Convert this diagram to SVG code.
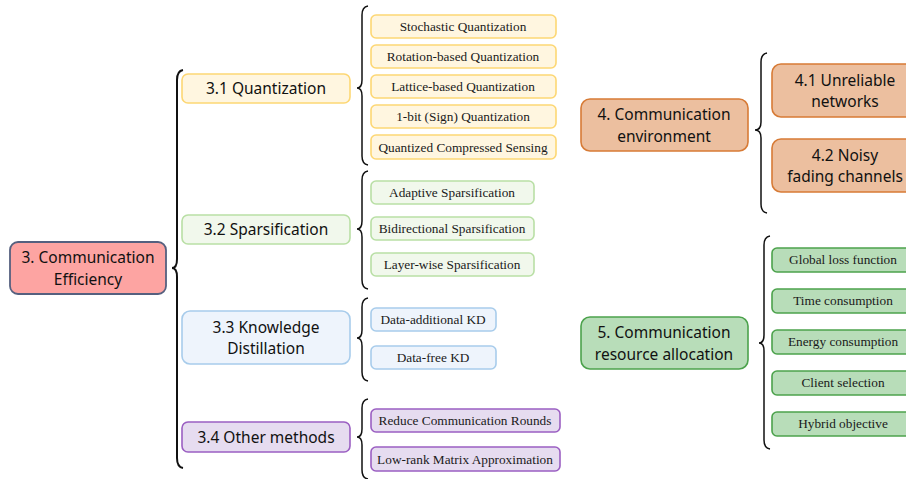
<svg xmlns="http://www.w3.org/2000/svg" width="906" height="479" viewBox="0 0 906 479">
<style>
.t{font-family:"Noto Sans","DejaVu Sans",sans-serif;font-size:15.5px;fill:#111;text-anchor:middle}
.s{font-family:"Liberation Serif","Times New Roman",serif;font-size:13.3px;fill:#1a1a1a;text-anchor:middle}
.br{fill:none;stroke:#111;stroke-width:1.5}
.q{fill:#fff6e0;stroke:#fdd774;stroke-width:1.6}
.sp{fill:#f1f8ec;stroke:#b9dfa5;stroke-width:1.6}
.kd{fill:#eef4fc;stroke:#a8cceb;stroke-width:1.6}
.om{fill:#e6dcf0;stroke:#9b5fc2;stroke-width:1.6}
.ce{fill:#ecbf9f;stroke:#d77b36;stroke-width:1.6}
.ra{fill:#b8ddb9;stroke:#4ca24c;stroke-width:1.6}
</style>
<rect width="906" height="479" fill="#fff"/>
<g id="connectors">
<path class="br" style="stroke-width:2" d="M183,70 Q177,71 177,80 L177,259 Q177,268 172,268 Q177,268 177,277 L177,458 Q177,467 183,468"/>
<path class="br" d="M368,6 Q362,7 362,15 L362,80 Q362,88 357,88 Q362,88 362,96 L362,156 Q362,164 368,165"/>
<path class="br" d="M368,171 Q362,172 362,180 L362,221 Q362,229 357,229 Q362,229 362,237 L362,280 Q362,288 368,289"/>
<path class="br" d="M368,298 Q362,299 362,307 L362,330 Q362,338 357,338 Q362,338 362,346 L362,372 Q362,380 368,381"/>
<path class="br" d="M368,399 Q362,400 362,408 L362,429 Q362,437 357,437 Q362,437 362,445 L362,470 Q362,478 368,479"/>
<path class="br" d="M767,53 Q761,54 761,62 L761,122 Q761,130 755,130 Q761,130 761,138 L761,204 Q761,212 767,213"/>
<path class="br" d="M770,236 Q764,237 764,245 L764,335 Q764,343 759,343 Q764,343 764,351 L764,440 Q764,448 770,449"/>
</g>
<g id="n3"><rect x="10" y="242" width="156" height="52" rx="8" fill="#fda4a2" stroke="#55607f" stroke-width="1.8"/><text class="t" x="88" y="263">3. Communication</text><text class="t" x="88" y="285">Efficiency</text></g>
<g id="n31"><rect class="q" x="182" y="74" width="168" height="29" rx="6"/><text class="t" x="266" y="94">3.1 Quantization</text></g>
<g id="n32"><rect class="sp" x="182" y="215" width="168" height="29" rx="6"/><text class="t" x="266" y="235">3.2 Sparsification</text></g>
<g id="n33"><rect class="kd" x="182" y="311" width="168" height="53" rx="8"/><text class="t" x="266" y="333">3.3 Knowledge</text><text class="t" x="266" y="354">Distillation</text></g>
<g id="n34"><rect class="om" x="182" y="422" width="168" height="30" rx="6"/><text class="t" x="266" y="443">3.4 Other methods</text></g>
<g id="q1"><rect class="q" x="371" y="15" width="185" height="23" rx="5"/><text class="s" x="463" y="31">Stochastic Quantization</text></g>
<g id="q2"><rect class="q" x="371" y="45" width="185" height="23" rx="5"/><text class="s" x="463" y="61">Rotation-based Quantization</text></g>
<g id="q3"><rect class="q" x="371" y="75" width="185" height="23" rx="5"/><text class="s" x="463" y="91">Lattice-based Quantization</text></g>
<g id="q4"><rect class="q" x="371" y="105" width="185" height="23" rx="5"/><text class="s" x="463" y="121">1-bit (Sign) Quantization</text></g>
<g id="q5"><rect class="q" x="371" y="135" width="185" height="24" rx="5"/><text class="s" x="463" y="152">Quantized Compressed Sensing</text></g>
<g id="s1"><rect class="sp" x="371" y="181" width="163" height="23" rx="5"/><text class="s" x="452" y="197">Adaptive Sparsification</text></g>
<g id="s2"><rect class="sp" x="371" y="217" width="163" height="23" rx="5"/><text class="s" x="452" y="233">Bidirectional Sparsification</text></g>
<g id="s3"><rect class="sp" x="371" y="253" width="163" height="23" rx="5"/><text class="s" x="452" y="269">Layer-wise Sparsification</text></g>
<g id="k1"><rect class="kd" x="371" y="308" width="125" height="23" rx="5"/><text class="s" x="433" y="324">Data-additional KD</text></g>
<g id="k2"><rect class="kd" x="371" y="346" width="125" height="23" rx="5"/><text class="s" x="433" y="362">Data-free KD</text></g>
<g id="o1"><rect class="om" x="371" y="409" width="189" height="23" rx="5"/><text class="s" x="465" y="425">Reduce Communication Rounds</text></g>
<g id="o2"><rect class="om" x="371" y="447" width="189" height="24" rx="5"/><text class="s" x="465" y="464">Low-rank Matrix Approximation</text></g>
<g id="n4"><rect class="ce" x="581" y="99" width="167" height="52" rx="9"/><text class="t" x="664" y="120">4. Communication</text><text class="t" x="664" y="142">environment</text></g>
<g id="n41"><rect class="ce" x="772" y="64" width="146" height="53" rx="9"/><text class="t" x="845" y="86">4.1 Unreliable</text><text class="t" x="845" y="107">networks</text></g>
<g id="n42"><rect class="ce" x="772" y="139" width="146" height="53" rx="9"/><text class="t" x="845" y="161">4.2 Noisy</text><text class="t" x="845" y="182">fading channels</text></g>
<g id="n5"><rect class="ra" x="581" y="317" width="167" height="52" rx="9"/><text class="t" x="664" y="338">5. Communication</text><text class="t" x="664" y="360">resource allocation</text></g>
<g id="r1"><rect class="ra" x="772" y="248" width="142" height="24" rx="5"/><text class="s" x="843" y="264">Global loss function</text></g>
<g id="r2"><rect class="ra" x="772" y="289" width="142" height="24" rx="5"/><text class="s" x="843" y="305">Time consumption</text></g>
<g id="r3"><rect class="ra" x="772" y="330" width="142" height="24" rx="5"/><text class="s" x="843" y="346">Energy consumption</text></g>
<g id="r4"><rect class="ra" x="772" y="371" width="142" height="24" rx="5"/><text class="s" x="843" y="387">Client selection</text></g>
<g id="r5"><rect class="ra" x="772" y="412" width="142" height="24" rx="5"/><text class="s" x="843" y="428">Hybrid objective</text></g>
</svg>
